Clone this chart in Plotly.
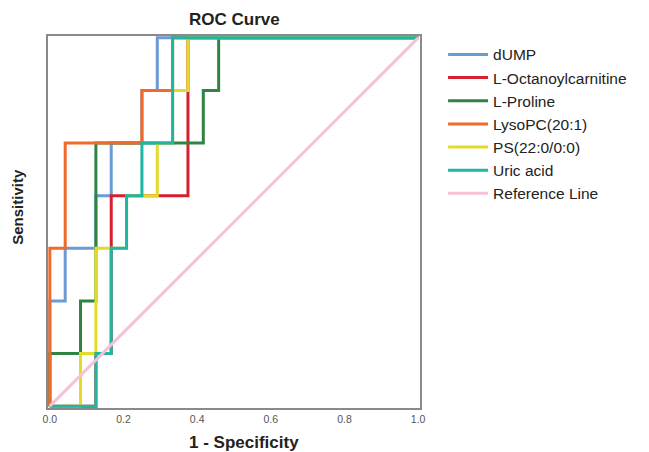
import plotly.graph_objects as go

# ROC vertices as counts: false positives (of 24 negatives), true positives (of 7 positives)
N_NEG = 24
N_POS = 7

series_names = ["dUMP", "L-Octanoylcarnitine", "L-Proline", "LysoPC(20:1)", "PS(22:0/0:0)", "Uric acid"]

dump_fp = [0, 0, 1, 1, 3, 3, 4, 4, 6, 6, 7, 7, 24]
dump_tp = [0, 2, 2, 3, 3, 4, 4, 5, 5, 6, 6, 7, 7]

octa_fp = [0, 3, 3, 4, 4, 9, 9, 24]
octa_tp = [0, 0, 1, 1, 4, 4, 7, 7]

prol_fp = [0, 0, 2, 2, 3, 3, 10, 10, 11, 11, 24]
prol_tp = [0, 1, 1, 2, 2, 5, 5, 6, 6, 7, 7]

lyso_fp = [0, 0, 1, 1, 6, 6, 8, 8, 24]
lyso_tp = [0, 3, 3, 5, 5, 6, 6, 7, 7]

ps_fp = [0, 2, 2, 3, 3, 5, 5, 7, 7, 8, 8, 9, 9, 24]
ps_tp = [0, 0, 1, 1, 3, 3, 4, 4, 5, 5, 6, 6, 7, 7]

uric_fp = [0, 3, 3, 4, 4, 5, 5, 6, 6, 8, 8, 24]
uric_tp = [0, 0, 1, 1, 3, 3, 4, 4, 5, 5, 7, 7]

ref_x = [0, 1]
ref_y = [0, 1]

x_ticks = [0.0, 0.2, 0.4, 0.6, 0.8, 1.0]
x_tick_labels = ["0.0", "0.2", "0.4", "0.6", "0.8", "1.0"]

colors = ["#6B9BD6", "#D4202F", "#2F8443", "#F06A2A", "#E2DC28", "#20B6A2"]
ref_color = "#F7C0D4"

all_fp = [dump_fp, octa_fp, prol_fp, lyso_fp, ps_fp, uric_fp]
all_tp = [dump_tp, octa_tp, prol_tp, lyso_tp, ps_tp, uric_tp]

FONT = "Arial, Liberation Sans, sans-serif"

fig = go.Figure()
for name, fp, tp, c in zip(series_names, all_fp, all_tp, colors):
    fig.add_trace(go.Scatter(
        x=[v / N_NEG for v in fp], y=[v / N_POS for v in tp],
        mode="lines", name=name, line=dict(color=c, width=3),
    ))
fig.add_trace(go.Scatter(x=ref_x, y=ref_y, mode="lines", name="Reference Line",
                         line=dict(color=ref_color, width=3)))

pad = 0.005
fig.update_layout(
    width=649, height=452,
    margin=dict(l=48, r=229, t=36, b=44, autoexpand=False),
    paper_bgcolor="white", plot_bgcolor="white",
    font=dict(family=FONT, color="#222"),
    showlegend=True,
    legend=dict(x=1.062, xanchor="left", y=0.995, yanchor="top",
                font=dict(size=15.5, color="#222"), itemwidth=40,
                bgcolor="rgba(0,0,0,0)", tracegroupgap=0),
    xaxis=dict(range=[-pad, 1 + pad], tickvals=x_ticks, ticktext=x_tick_labels,
               showgrid=False, zeroline=False, showline=True, linecolor="#8a8a8a",
               linewidth=2, mirror=True, ticks="", layer="below traces", automargin=False,
               tickfont=dict(size=10.5, color="#555")),
    yaxis=dict(range=[-pad, 1 + pad], showticklabels=False, showgrid=False, zeroline=False,
               showline=True, linecolor="#8a8a8a", linewidth=2, mirror=True, ticks="",
               layer="below traces", automargin=False),
    annotations=[
        dict(text="<b>ROC Curve</b>", xref="paper", yref="paper", x=0.501, y=1.0436,
             xanchor="center", yanchor="middle", showarrow=False,
             font=dict(size=17, color="#222")),
        dict(text="<b>1 - Specificity</b>", xref="paper", yref="paper", x=0.528, y=-0.0917,
             xanchor="center", yanchor="middle", showarrow=False,
             font=dict(size=17, color="#222")),
        dict(text="<b>Sensitivity</b>", xref="paper", yref="paper", x=-0.0812, y=0.5405,
             xanchor="center", yanchor="middle", showarrow=False, textangle=-90,
             font=dict(size=15, color="#222")),
    ],
)

fig.write_html("out.html", config={"displayModeBar": False},
               post_script="document.body.style.margin='0';document.body.style.overflow='hidden';")
